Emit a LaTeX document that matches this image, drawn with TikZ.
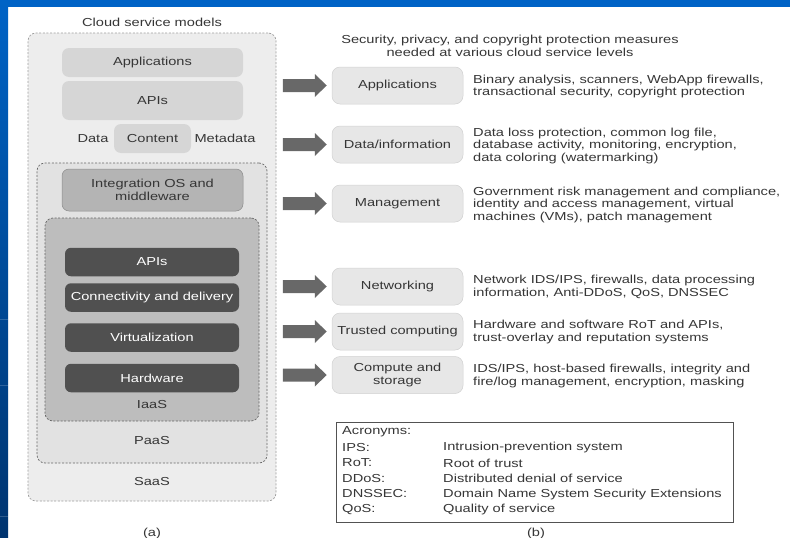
\documentclass[tikz,border=0pt]{standalone}
\usepackage{fontspec}
\setmainfont{Liberation Sans}[FakeStretch=1.26]
\usetikzlibrary{calc}

\definecolor{slideblue}{HTML}{0063C6}
\definecolor{slidedeep}{HTML}{00346F}
\definecolor{txt}{HTML}{363636}
\definecolor{saasfill}{HTML}{EDEDED}
\definecolor{paasfill}{HTML}{E2E2E2}
\definecolor{iaasfill}{HTML}{BDBDBD}
\definecolor{topfill}{HTML}{D6D6D6}
\definecolor{midfill}{HTML}{B4B4B4}
\definecolor{darkfill}{HTML}{505050}
\definecolor{rightfill}{HTML}{E7E7E7}
\definecolor{arrowc}{HTML}{686868}

\tikzset{
  base/.style={font=\fontsize{11.6}{12.5}\selectfont, text=txt, inner sep=0pt},
  layer/.style={base, rounded corners=8pt, dash pattern=on 2pt off 1.6pt, line width=0.7pt},
  topbox/.style={base, fill=topfill, rounded corners=7pt, minimum width=181pt},
  midbox/.style={base, fill=midfill, draw=black!45, line width=0.5pt, rounded corners=7pt, minimum width=181pt, align=center},
  darkbox/.style={base, fill=darkfill, text=white, rounded corners=6pt, minimum width=174pt, minimum height=28.5pt},
  levelbox/.style={base, fill=rightfill, draw=black!18, line width=0.5pt, rounded corners=8pt, minimum width=131pt, minimum height=37pt, align=center},
  measures/.style={base, anchor=west, align=left},
  lbl/.style={base},
  acro/.style={base, anchor=west},
}

\newcommand\blockarrow[1]{%
  \fill[arrowc] ($(#1.west)+(-49,-6.5)$) -- ++(32,0) -- ++(0,-5)
    -- ($(#1.west)+(-5,0)$) -- ($(#1.west)+(-17,11.5)$) -- ++(0,-5)
    -- ++(-32,0) -- cycle;}

\begin{document}
\begin{tikzpicture}[x=1pt, y=-1pt]
  \useasboundingbox (0,0) rectangle (790,538);

  % slide frame
  \fill[white] (0,0) rectangle (790,538);
  \fill[slideblue] (0,0) rectangle (790,7);
  \shade[top color=slideblue, bottom color=slidedeep] (0,0) rectangle (8,538);
  \draw[white, opacity=0.18, line width=0.6pt] (0,319) -- (8,319) (0,385) -- (8,385) (0,516) -- (8,516);

  % (a) cloud service model stack
  \node[lbl] (title) at (152,22) {Cloud service models};
  \node[layer, fill=saasfill, draw=black!38, minimum width=248pt, minimum height=468pt] (saas) at (152,267) {};
  \node[layer, fill=paasfill, draw=black!60, minimum width=230pt, minimum height=300pt] (paas) at (152,313) {};
  \node[layer, fill=iaasfill, draw=black!60, minimum width=214pt, minimum height=203pt] (iaas) at (152,319.5) {};

  \node[topbox, minimum height=29pt] (apps) at (152.5,62.5) {Applications};
  \node[topbox, minimum height=39pt] (apis) at (152.5,100.5) {APIs};
  \node[topbox, minimum width=77pt, minimum height=29pt] (content) at (152.5,138.5) {Content};
  \node[lbl] (data) at (93,138.5) {Data};
  \node[lbl] (meta) at (225,138.5) {Metadata};

  \node[midbox, minimum height=42pt] (integ) at (152.5,190) {Integration OS and\\middleware};

  \node[darkbox] (apis2) at (152,262) {APIs};
  \node[darkbox] (conn) at (152,297.5) {Connectivity and delivery};
  \node[darkbox] (virt) at (152,337.5) {Virtualization};
  \node[darkbox] (hw) at (152,378) {Hardware};

  \node[lbl] (iaaslbl) at (152,405) {IaaS};
  \node[lbl] (paaslbl) at (152,441) {PaaS};
  \node[lbl] (saaslbl) at (152,482) {SaaS};
  \node[lbl] (capa) at (152,533) {(a)};

  % (b) protection measures per level
  \node[lbl, align=center] (head) at (510,46) {Security, privacy, and copyright protection measures\\needed at various cloud service levels};

  \node[levelbox] (r1) at (397.5,85.5) {Applications};
  \node[levelbox] (r2) at (397.5,144.5) {Data/information};
  \node[levelbox] (r3) at (397.5,203.5) {Management};
  \node[levelbox] (r4) at (397.5,286.5) {Networking};
  \node[levelbox] (r5) at (397.5,331.5) {Trusted computing};
  \node[levelbox] (r6) at (397.5,375) {Compute and\\storage};

  \node[measures] (m1) at (473,86.5) {Binary analysis, scanners, WebApp firewalls,\\transactional security, copyright protection};
  \node[measures] (m2) at (473,145.5) {Data loss protection, common log file,\\database activity, monitoring, encryption,\\data coloring (watermarking)};
  \node[measures] (m3) at (473,204.5) {Government risk management and compliance,\\identity and access management, virtual\\machines (VMs), patch management};
  \node[measures] (m4) at (473,287) {Network IDS/IPS, firewalls, data processing\\information, Anti-DDoS, QoS, DNSSEC};
  \node[measures] (m5) at (473,332) {Hardware and software RoT and APIs,\\trust-overlay and reputation systems};
  \node[measures] (m6) at (473,376) {IDS/IPS, host-based firewalls, integrity and\\fire/log management, encryption, masking};

  \blockarrow{r1}
  \blockarrow{r2}
  \blockarrow{r3}
  \blockarrow{r4}
  \blockarrow{r5}
  \blockarrow{r6}

  % acronym legend
  \node[draw=black!68, line width=0.7pt, minimum width=397pt, minimum height=100pt, inner sep=0pt] (legend) at (534.5,472) {};
  \node[acro] (ah) at (342,432) {Acronyms:};
  \node[acro] (a1) at (342,447.5) {IPS:};
  \node[acro] (d1) at (443,447.5) {Intrusion-prevention system};
  \node[acro] (a2) at (342,463) {RoT:};
  \node[acro] (d2) at (443,463) {Root of trust};
  \node[acro] (a3) at (342,478.5) {DDoS:};
  \node[acro] (d3) at (443,478.5) {Distributed denial of service};
  \node[acro] (a4) at (342,494) {DNSSEC:};
  \node[acro] (d4) at (443,494) {Domain Name System Security Extensions};
  \node[acro] (a5) at (342,509.5) {QoS:};
  \node[acro] (d5) at (443,509.5) {Quality of service};
  \node[lbl] (capb) at (536,533) {(b)};
\end{tikzpicture}
\end{document}
